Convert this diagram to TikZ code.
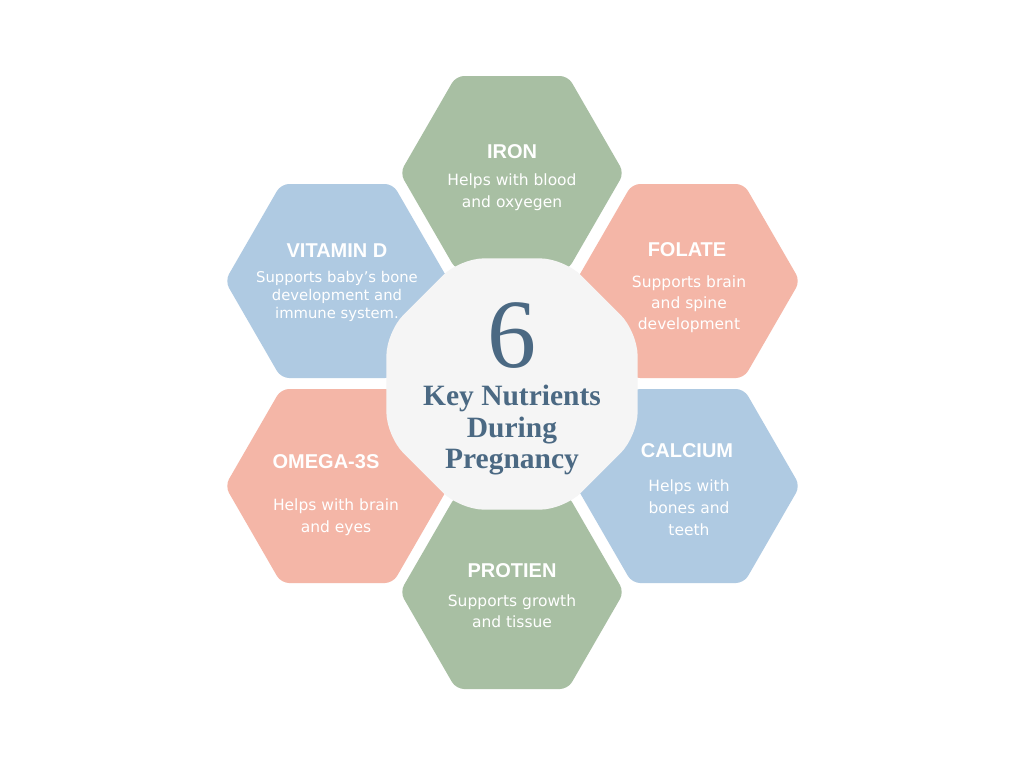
\documentclass[tikz,border=0pt]{standalone}
\usepackage{fontspec}
\usetikzlibrary{shapes.geometric}
\setmainfont{Liberation Serif}
\newfontfamily\titlefont{Liberation Sans}
\newfontfamily\bodyfont{DejaVu Sans}
\definecolor{sage}{HTML}{A8BFA3}
\definecolor{skyblue}{HTML}{AFCAE2}
\definecolor{salmon}{HTML}{F4B6A7}
\definecolor{centerfill}{HTML}{F5F5F5}
\definecolor{navy}{HTML}{4B6983}
\begin{document}
\begin{tikzpicture}[x=1pt,y=-1pt,
 hex/.style={regular polygon, regular polygon sides=6, minimum size=224pt, inner sep=0pt, outer sep=0pt, rounded corners=8pt, draw=none},
 oct/.style={regular polygon, regular polygon sides=8, minimum size=272pt, inner sep=0pt, outer sep=0pt, rounded corners=24pt, fill=centerfill},
 title/.style={font=\titlefont\bfseries\fontsize{20}{24}\selectfont, text=white, anchor=base, inner sep=0pt},
 body/.style={font=\bodyfont\fontsize{15.5}{22}\selectfont, text=white, anchor=base, inner sep=0pt},
 smallbody/.style={font=\bodyfont\fontsize{14.8}{18}\selectfont, text=white, anchor=base, inner sep=0pt},
 bignum/.style={font=\fontsize{98}{100}\selectfont, text=navy, anchor=base, inner sep=0pt},
 head/.style={font=\bfseries\fontsize{29.5}{32}\selectfont, text=navy, anchor=base, inner sep=0pt}]
\useasboundingbox[fill=white] (0,0) rectangle (1024,768);
% hexagons
\node[hex, fill=sage] (iron) at (512,173) {};
\node[hex, fill=skyblue] (vitd) at (337,281) {};
\node[hex, fill=salmon] (folate) at (688,281) {};
\node[hex, fill=salmon] (omega) at (337,486) {};
\node[hex, fill=skyblue] (calcium) at (688,486) {};
\node[hex, fill=sage] (protein) at (512,592) {};
% centre
\node[oct] (center) at (512,384) {};
% iron
\node[title] (iron-t) at (512,158) {IRON};
\node[body] (iron-1) at (512,185) {Helps with blood};
\node[body] (iron-2) at (512,207) {and oxyegen};
% vitamin d
\node[title] (vitd-t) at (337,257) {VITAMIN D};
\node[smallbody] (vitd-1) at (337,282) {Supports baby’s bone};
\node[smallbody] (vitd-2) at (337,300) {development and};
\node[smallbody] (vitd-3) at (337,318) {immune system.};
% folate
\node[title] (folate-t) at (687,256) {FOLATE};
\node[body] (folate-1) at (689,287) {Supports brain};
\node[body] (folate-2) at (689,308) {and spine};
\node[body] (folate-3) at (689,329) {development};
% calcium
\node[title] (calcium-t) at (687,457) {CALCIUM};
\node[body] (calcium-1) at (689,491) {Helps with};
\node[body] (calcium-2) at (689,513) {bones and};
\node[body] (calcium-3) at (689,535) {teeth};
% omega
\node[title] (omega-t) at (326,468) {OMEGA-3S};
\node[body] (omega-1) at (336,510) {Helps with brain};
\node[body] (omega-2) at (336,532) {and eyes};
% protein
\node[title] (protein-t) at (512,577) {PROTIEN};
\node[body] (protein-1) at (512,606) {Supports growth};
\node[body] (protein-2) at (512,627) {and tissue};
% centre text
\node[bignum] (six) at (512,367) {6};
\node[head] (head-1) at (512,405) {Key Nutrients};
\node[head] (head-2) at (512,437) {During};
\node[head] (head-3) at (512,468) {Pregnancy};
\end{tikzpicture}
\end{document}
